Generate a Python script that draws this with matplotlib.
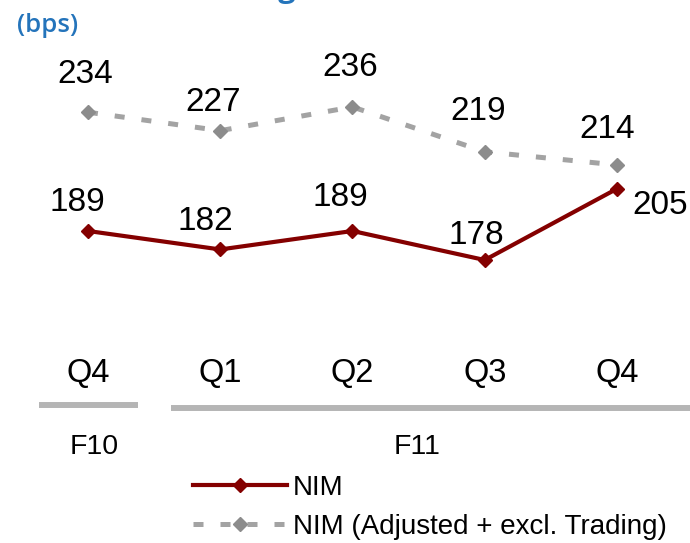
import numpy as np
import matplotlib.pyplot as plt
from matplotlib.transforms import blended_transform_factory

# ---- data ----
quarters = ["Q4", "Q1", "Q2", "Q3", "Q4"]
years = ["F10", "F11"]
year_span = [(0, 0), (1, 4)]          # first / last quarter index of each year
nim = [189, 182, 189, 178, 205]
nim_adj = [234, 227, 236, 219, 214]

plt.rcParams['font.family'] = ['Liberation Sans', 'DejaVu Sans']

RED = '#840000'
GREY_LINE = '#a3a3a3'
GREY_MARK = '#8c8c8c'
BLUE = '#2474bb'

fig = plt.figure(figsize=(6.9, 5.43), dpi=100)
ax = fig.add_axes([0, 0, 1, 1])
ax.axis('off')

x = np.arange(len(quarters))
# scale picked so 1 bps ~ 2.64 px, 189 bps at 231 px from the top
ax.set_xlim(-0.665, 4.552)
ax.set_ylim(70.8, 276.5)

ax.plot(x, nim_adj, color=GREY_LINE, lw=3.6, ls=(0, (2.0, 3.4)),
        marker='D', ms=7.5, mfc=GREY_MARK, mec=GREY_MARK,
        label='NIM (Adjusted + excl. Trading)')
ax.plot(x, nim, color=RED, lw=3, marker='D', ms=7.5,
        mfc=RED, mec=RED, label='NIM')

# data labels (offsets in pixels)
adj_off = [(-3, 38), (-7, 28), (-2, 39), (-7, 40), (-10, 35)]
nim_off = [(-11, 28), (-15, 28), (-12, 33), (-8, 25), (43, -17)]
for i, v in enumerate(nim_adj):
    ax.annotate(str(v), (x[i], v), xytext=adj_off[i], textcoords='offset pixels',
                ha='center', va='center', fontsize=24)
for i, v in enumerate(nim):
    ax.annotate(str(v), (x[i], v), xytext=nim_off[i], textcoords='offset pixels',
                ha='center', va='center', fontsize=24)

# category axis: quarters, year bars, years
tr = blended_transform_factory(ax.transData, ax.transAxes)
for i, q in enumerate(quarters):
    ax.text(x[i], 1 - 374 / 543, q, transform=tr, ha='center', va='center',
            fontsize=23.5)
xmax = ax.get_xlim()[1]
year_nudge = [0.05, -0.015]
for k, (yr, (a, b)) in enumerate(zip(years, year_span)):
    right = b + 0.38 if k < len(years) - 1 else xmax
    ybar = 1 - (405 + 3 * k) / 543
    ax.plot([a - 0.37, right], [ybar, ybar], transform=tr,
            color='#b5b5b5', lw=4.3, solid_capstyle='butt', clip_on=False)
    ax.text((a + b) / 2 + year_nudge[k], 1 - 447 / 543, yr, transform=tr,
            ha='center', va='center', fontsize=20.5)

# legend, NIM first
h, l = ax.get_legend_handles_labels()
leg = ax.legend(h[::-1], l[::-1], loc='upper left',
                bbox_to_anchor=(193 / 690, 1 - 475 / 543), frameon=False,
                fontsize=20, handlelength=3.4, handletextpad=0.2,
                labelspacing=0.45, borderpad=0, borderaxespad=0)

# title (cut off at the top in the reference) and unit
fig.text(325 / 690, 1 + 3 / 543, "Net Interest Margin", ha='right',
         va='baseline', fontsize=22, fontweight='bold', color=BLUE,
         family=['Open Sans', 'DejaVu Sans'])
fig.text(17 / 690, 1 - 26 / 543, "(bps)", ha='left', va='center',
         fontsize=18.5, fontweight='semibold', color=BLUE,
         family=['Open Sans', 'DejaVu Sans'])

fig.savefig('out.png', dpi=100)
